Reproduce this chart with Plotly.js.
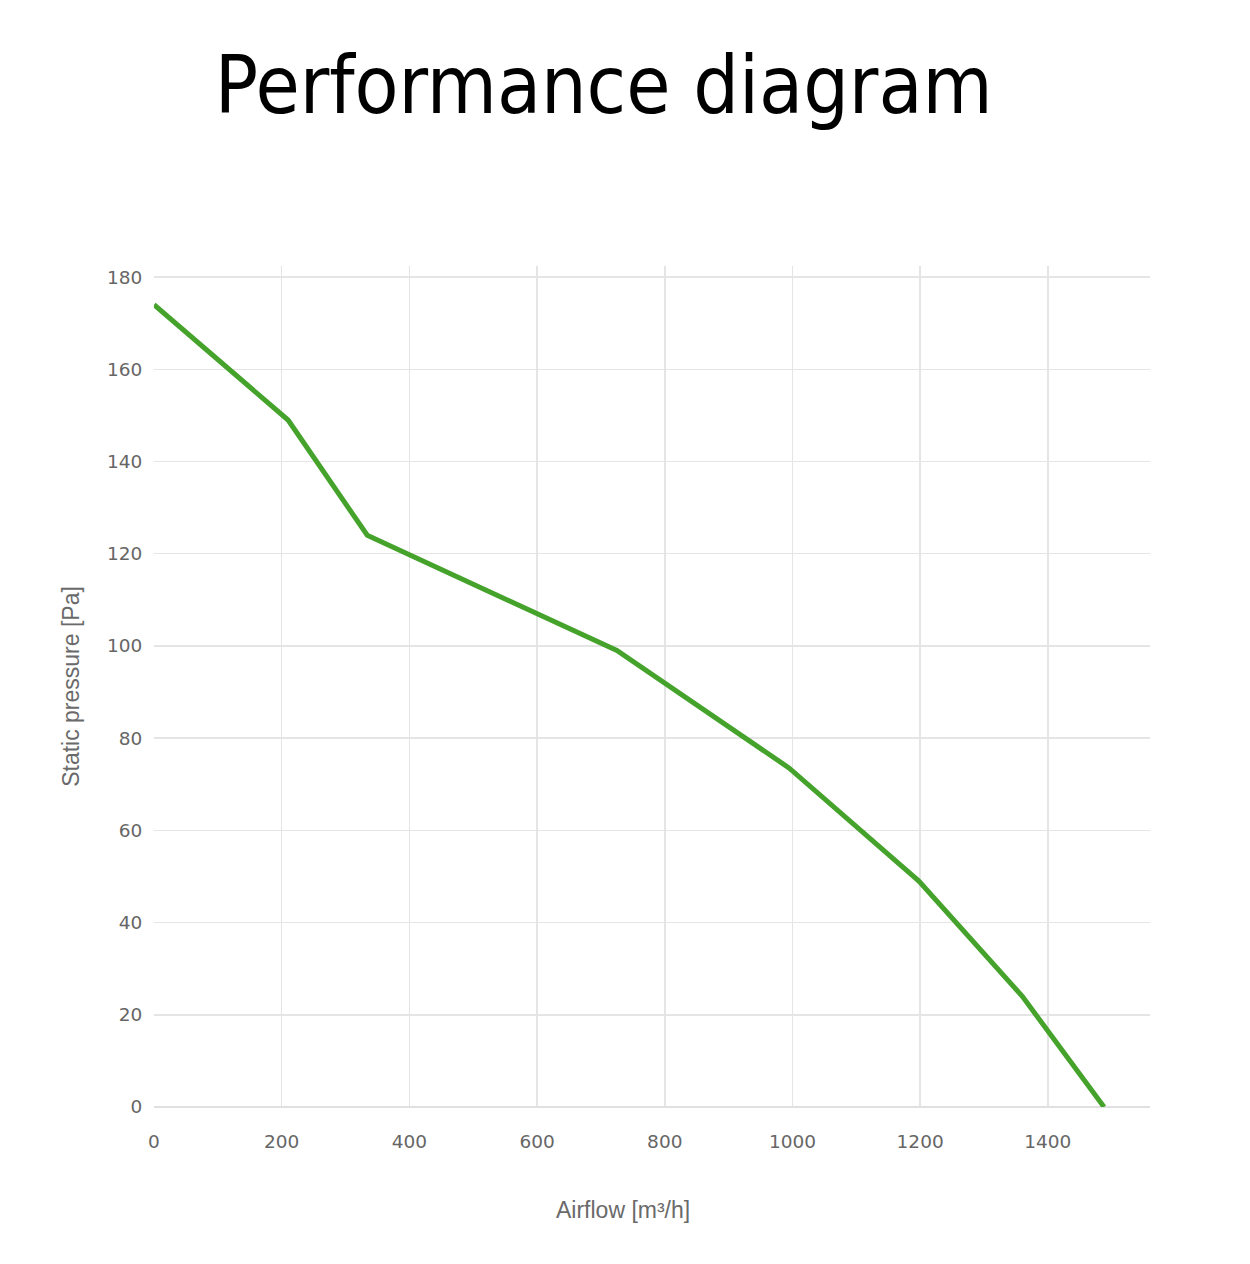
<!DOCTYPE html>
<html>
<head>
<meta charset="utf-8">
<script src="https://cdn.plot.ly/plotly-3.0.1.min.js"></script>
<style>html,body{margin:0;padding:0;background:#fff;}#chart{width:1250px;height:1264px;}</style>
</head>
<body>
<div id="chart"></div>
<script>
const airflow = [0, 210, 334, 725, 995, 1198, 1360, 1488];
const pressure = [174, 149, 124, 99, 73.5, 49, 24, 0];
const xTicks = [0, 200, 400, 600, 800, 1000, 1200, 1400];
const yTicks = [0, 20, 40, 60, 80, 100, 120, 140, 160, 180];

const trace = {
  x: airflow, y: pressure, type: 'scatter', mode: 'lines',
  line: {color: '#45a32c', width: 5}, hoverinfo: 'skip'
};
const tickFont = {family: '"DejaVu Sans", sans-serif', size: 18.5, color: '#666'};
const axisTitleFont = {family: '"Liberation Sans", Arial, sans-serif', size: 23, color: '#6a6a6a'};
const layout = {
  width: 1250, height: 1264,
  paper_bgcolor: '#fff', plot_bgcolor: '#fff',
  margin: {l: 154, r: 100, t: 266, b: 157},
  showlegend: false,
  title: {
    text: 'Performance diagram',
    font: {family: '"DejaVu Sans Condensed", sans-serif', size: 80, color: '#000'},
    x: 0.483, xanchor: 'center', xref: 'container',
    y: 0.933, yanchor: 'middle', yref: 'container'
  },
  xaxis: {
    range: [0, 1560], tickvals: xTicks, ticktext: xTicks.map(String),
    showgrid: true, gridcolor: '#e5e5e5', gridwidth: 1.5,
    zeroline: false, showline: false, ticks: 'outside', ticklen: 18, tickcolor: 'rgba(0,0,0,0)',
    tickfont: tickFont
  },
  yaxis: {
    range: [0, 182.4], tickvals: yTicks, ticktext: yTicks.map(String),
    showgrid: true, gridcolor: '#e5e5e5', gridwidth: 1.5,
    zeroline: true, zerolinecolor: '#e0e0e0', zerolinewidth: 2,
    showline: false, ticks: 'outside', ticklen: 7, tickcolor: 'rgba(0,0,0,0)',
    tickfont: tickFont,
    title: {text: 'Static pressure [Pa]', font: axisTitleFont, standoff: 20}
  },
  annotations: [{
    text: 'Airflow [m³/h]', xref: 'paper', yref: 'paper',
    x: (623 - 154) / 996, y: -103 / 841, xanchor: 'center', yanchor: 'middle',
    showarrow: false, font: axisTitleFont
  }]
};
Plotly.newPlot('chart', [trace], layout, {displayModeBar: false, staticPlot: true});
</script>
</body>
</html>
